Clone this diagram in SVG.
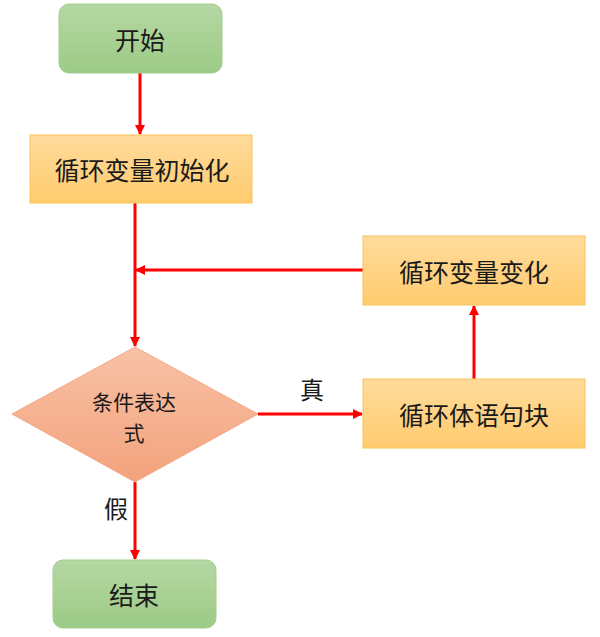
<svg xmlns="http://www.w3.org/2000/svg" width="600" height="637" viewBox="0 0 600 637">
<defs>
<linearGradient id="g" x1="0" y1="0" x2="0" y2="1"><stop offset="0" stop-color="#b5d7a3"/><stop offset="1" stop-color="#9ccb86"/></linearGradient>
<linearGradient id="o" x1="0" y1="0" x2="0" y2="1"><stop offset="0" stop-color="#ffdb9c"/><stop offset="1" stop-color="#ffcb6e"/></linearGradient>
<linearGradient id="d" x1="0" y1="0" x2="0" y2="1"><stop offset="0" stop-color="#f8c2a6"/><stop offset="1" stop-color="#f3a27c"/></linearGradient>
<marker id="a" markerWidth="10" markerHeight="10" refX="9" refY="5" orient="auto" markerUnits="userSpaceOnUse"><path d="M0,0 L10,5 L0,10 z" fill="#ff0000"/></marker>
<style>
.t{font-family:"Noto Sans CJK SC","Liberation Sans",sans-serif;fill:#1a1a1a;text-anchor:middle;dominant-baseline:central}
.gr{fill:url(#g);stroke:#a3cd8e;stroke-width:1}
.or{fill:url(#o);stroke:#f7c45a;stroke-width:1}
.c{stroke:#ff0000;stroke-width:3;fill:none;marker-end:url(#a)}
</style>
</defs>
<g id="connectors">
<line class="c" x1="140" y1="73" x2="140" y2="134"/>
<line class="c" x1="135" y1="203" x2="135" y2="346"/>
<line class="c" x1="363" y1="270" x2="136" y2="270"/>
<line class="c" x1="258" y1="414" x2="362" y2="414"/>
<line class="c" x1="474" y1="379" x2="474" y2="306"/>
<line class="c" x1="135" y1="482" x2="135" y2="559"/>
<text class="t" x="312" y="388" font-size="24">真</text>
<text class="t" x="116" y="507" font-size="24">假</text>
</g>
<g id="start"><rect class="gr" x="59" y="4" width="163" height="69" rx="10"/><text class="t" x="140" y="39" font-size="25">开始</text></g>
<g id="init"><rect class="or" x="30" y="135" width="222" height="68"/><text class="t" x="142" y="169" font-size="25">循环变量初始化</text></g>
<g id="cond"><polygon points="135,347 258,414 135,482 12,414" fill="url(#d)" stroke="#f3a884" stroke-width="1"/><text class="t" x="134" y="401" font-size="21">条件表达</text><text class="t" x="134" y="432" font-size="21">式</text></g>
<g id="change"><rect class="or" x="363" y="236" width="222" height="69"/><text class="t" x="474" y="271" font-size="25">循环变量变化</text></g>
<g id="body"><rect class="or" x="363" y="379" width="222" height="69"/><text class="t" x="474" y="414" font-size="25">循环体语句块</text></g>
<g id="end"><rect class="gr" x="53" y="560" width="163" height="68" rx="10"/><text class="t" x="134" y="594" font-size="25">结束</text></g>
</svg>
